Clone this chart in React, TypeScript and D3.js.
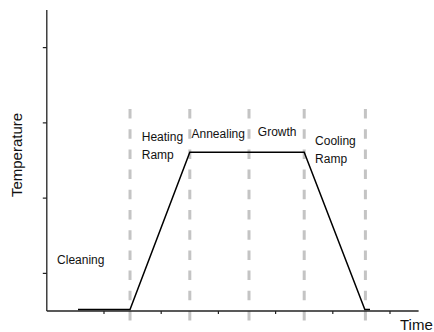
import React from "react";
import * as d3 from "d3";

const W = 434;
const H = 332;

// temperature profile (time units, temperature units)
const profileTime = [0.545, 1.455, 2.5, 4.5, 5.56, 5.65];
const profileTemp = [2, 2, 211, 211, 2, 2];

// phase boundaries (time)
const phaseBoundaries = [1.455, 2.5, 3.535, 4.5, 5.57];

// phase labels
const phaseLabelLines = [["Cleaning"], ["Heating", "Ramp"], ["Annealing"], ["Growth"], ["Cooling", "Ramp"]];
const phaseLabelTime = [0.18, 1.66, 2.53, 3.69, 4.69];
const phaseLabelTemp = [62.5, 226, 230.4, 232, 221];

const xTicks = [1, 2, 3, 4, 5, 6];
const yTicks = [50, 150, 250, 350];

export default function App() {
  const x = d3.scaleLinear().domain([0, 6.5]).range([46.8, 418.6]);
  const y = d3.scaleLinear().domain([0, 400]).range([311, 10]);
  const pts: [number, number][] = profileTime.map((t, i) => [t, profileTemp[i]]);
  const line = d3
    .line<[number, number]>()
    .x((d) => x(d[0]))
    .y((d) => y(d[1]));
  const font = "'Liberation Sans', Arial, sans-serif";
  const axisColor = "#222";
  return (
    <svg
      width={W}
      height={H}
      style={{ position: "absolute", left: 0, top: 0, background: "#fff" }}
      fontFamily={font}
    >
      <rect x={0} y={0} width={W} height={H} fill="#fff" />
      {phaseBoundaries.map((b, i) => (
        <line
          key={"b" + i}
          x1={x(b)}
          x2={x(b)}
          y1={109}
          y2={326}
          stroke="#c4c4c4"
          strokeWidth={3}
          strokeDasharray="9.5,10.7"
        />
      ))}
      {/* axes */}
      <line x1={x(0)} x2={x(0)} y1={y(400)} y2={y(0)} stroke={axisColor} strokeWidth={1.3} />
      <line x1={x(0)} x2={x(6.5)} y1={y(0)} y2={y(0)} stroke={axisColor} strokeWidth={1.3} />
      {yTicks.map((t) => (
        <line key={"yt" + t} x1={x(0) - 4} x2={x(0)} y1={y(t)} y2={y(t)} stroke={axisColor} strokeWidth={1.2} />
      ))}
      {xTicks.map((t) => (
        <line key={"xt" + t} x1={x(t)} x2={x(t)} y1={y(0)} y2={y(0) + 3} stroke={axisColor} strokeWidth={1.2} />
      ))}
      <path d={line(pts) || ""} fill="none" stroke="#000" strokeWidth={1.5} />
      {phaseLabelLines.map((lines, i) =>
        lines.map((s, j) => (
          <text
            key={"l" + i + "-" + j}
            x={x(phaseLabelTime[i])}
            y={y(phaseLabelTemp[i]) + j * 18.5}
            fontSize={12}
            fill="#111"
          >
            {s}
          </text>
        ))
      )}
      <text
        transform={`translate(22,155) rotate(-90)`}
        textAnchor="middle"
        fontSize={15}
        fill="#111"
      >
        Temperature
      </text>
      <text x={400} y={330} fontSize={15} fill="#111">
        Time
      </text>
    </svg>
  );
}
